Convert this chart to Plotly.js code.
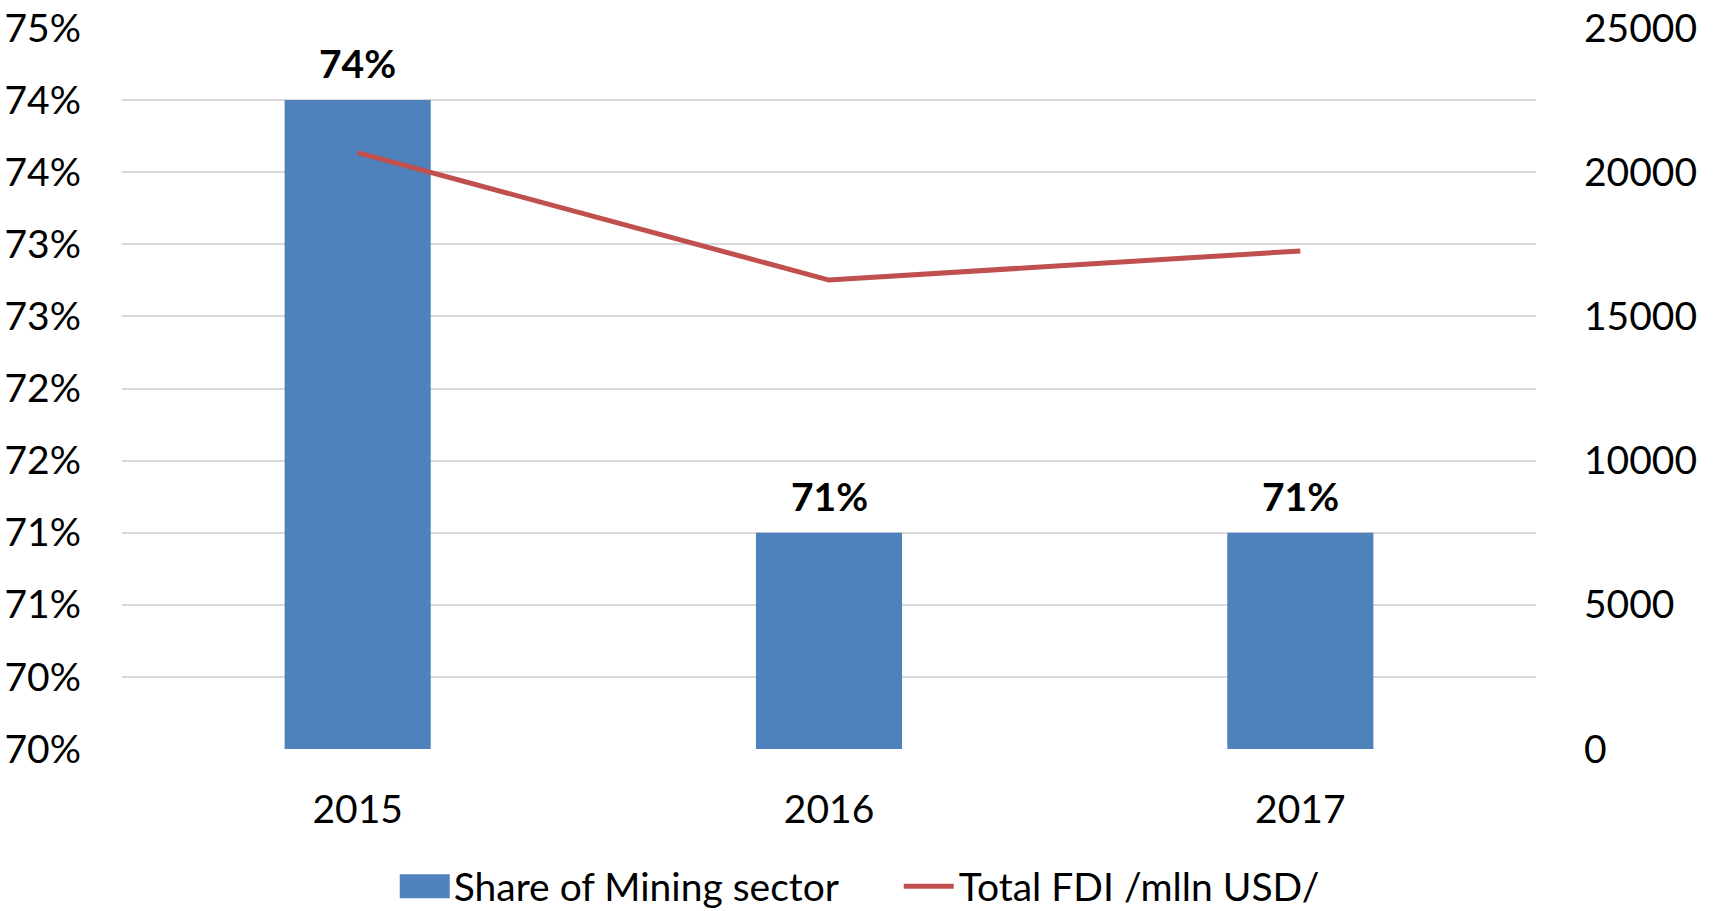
<!DOCTYPE html>
<html>
<head>
<meta charset="utf-8">
<script src="https://cdn.plot.ly/plotly-3.0.1.min.js"></script>
<style>html,body{margin:0;padding:0;background:#fff;}#chart{width:1725px;height:911px;}</style>
</head>
<body>
<div id="chart"></div>
<script>
const years = ['2015', '2016', '2017'];
const miningShare = [0.745, 0.715, 0.715];
const miningLabels = ['74%', '71%', '71%'];
const totalFDI = [20680, 16260, 17270];
const leftTickVals = [0.70, 0.705, 0.71, 0.715, 0.72, 0.725, 0.73, 0.735, 0.74, 0.745, 0.75];
const leftTickText = ['70%', '70%', '71%', '71%', '72%', '72%', '73%', '73%', '74%', '74%', '75%'];
const rightTickVals = [0, 5000, 10000, 15000, 20000, 25000];
const rightTickText = ['0', '5000', '10000', '15000', '20000', '25000'];

const FONT = 'Lato, "Open Sans", sans-serif';
const FS = 39;

const traces = [
  {
    type: 'bar', name: 'Share of Mining sector', x: years, y: miningShare,
    marker: {color: '#4F81BD'}, yaxis: 'y'
  },
  {
    type: 'scatter', mode: 'lines', name: 'Total FDI /mlln USD/', x: years, y: totalFDI,
    line: {color: '#C0504D', width: 5}, yaxis: 'y2'
  }
];

// category index positions for annotations (category axis)
const annotations = years.map((yr, i) => ({
  x: i, y: miningShare[i], xref: 'x', yref: 'y', text: '<b>' + miningLabels[i] + '</b>',
  showarrow: false, yanchor: 'bottom', xanchor: 'center', yshift: 12,
  font: {family: FONT, size: FS, color: '#000'}
}));

const layout = {
  width: 1725, height: 911,
  margin: {l: 122, r: 189, t: 28, b: 162},
  paper_bgcolor: '#fff', plot_bgcolor: '#fff',
  font: {family: FONT, size: FS, color: '#000'},
  bargap: 0.69,
  showlegend: true,
  legend: {
    orientation: 'h', xref: 'container', yref: 'container', x: 0.521, xanchor: 'center',
    y: 0.027, yanchor: 'middle', font: {family: FONT, size: FS, color: '#000'},
    traceorder: 'normal', itemwidth: 50, entrywidth: 440, entrywidthmode: 'pixels'
  },
  xaxis: {
    type: 'category', range: [-0.5, 2.5], autorange: false, showgrid: false, zeroline: false, showline: false,
    ticks: '', ticklabelstandoff: 34, tickfont: {family: FONT, size: FS, color: '#000'}
  },
  yaxis: {
    range: [0.70, 0.75], autorange: false, tickmode: 'array', tickvals: leftTickVals, ticktext: leftTickText,
    showgrid: true, gridcolor: '#d9d9d9', gridwidth: 2, zeroline: false, showline: false,
    ticks: '', ticklabelstandoff: 40, tickfont: {family: FONT, size: FS, color: '#000'}
  },
  yaxis2: {
    overlaying: 'y', side: 'right', range: [0, 25000], autorange: false, tickmode: 'array',
    tickvals: rightTickVals, ticktext: rightTickText,
    showgrid: false, zeroline: false, showline: false, ticks: '', ticklabelstandoff: 47,
    tickfont: {family: FONT, size: FS, color: '#000'}
  },
  annotations: annotations
};

Plotly.newPlot('chart', traces, layout, {displayModeBar: false, staticPlot: true}).then(function (gd) {
  try {
    const items = gd.querySelectorAll('.legend .traces');
    if (items.length > 0) {
      const p = items[0].querySelector('.legendpoints path');
      if (p) { p.setAttribute('d', 'M0,-12H50V12H0Z'); p.setAttribute('transform', 'translate(6,0)'); }
    }
  } catch (e) {}
});
</script>
</body>
</html>
